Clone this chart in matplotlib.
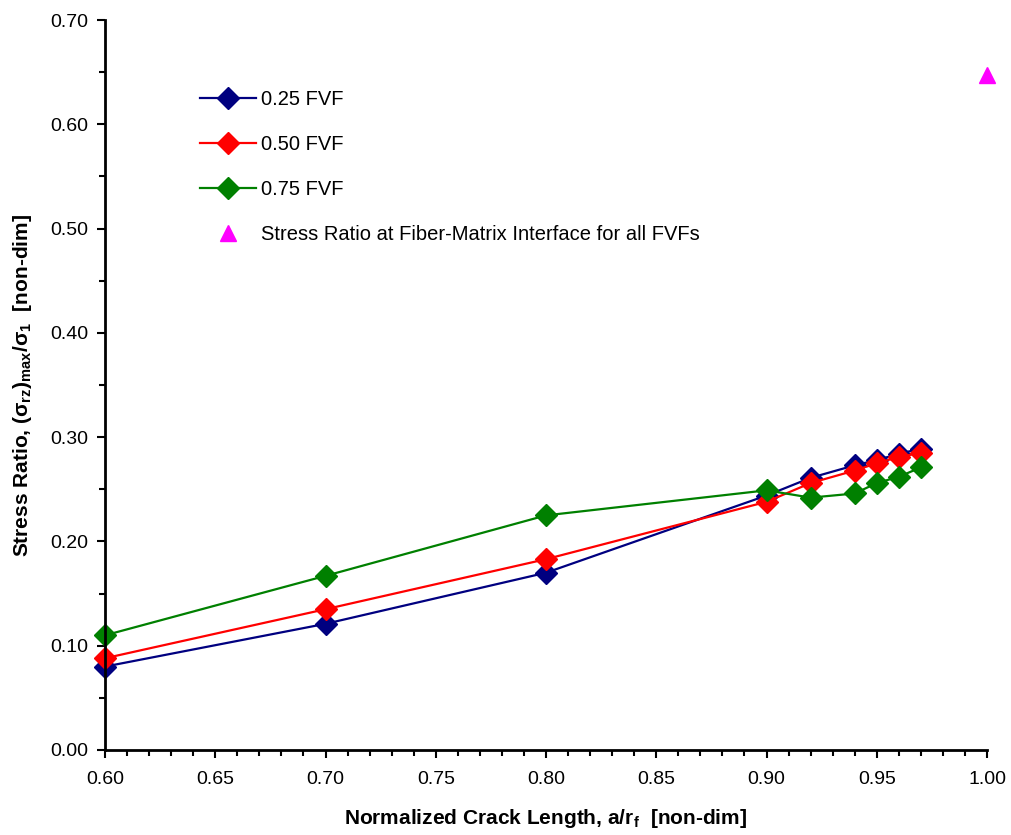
import numpy as np
import matplotlib
matplotlib.use("Agg")
import matplotlib.pyplot as plt
from matplotlib.ticker import MultipleLocator, FormatStrFormatter

plt.rcParams['font.family'] = ['Liberation Sans', 'DejaVu Sans']
plt.rcParams['mathtext.fontset'] = 'custom'
plt.rcParams['mathtext.rm'] = 'Liberation Sans:bold'
plt.rcParams['mathtext.it'] = 'Liberation Sans:bold'
plt.rcParams['mathtext.default'] = 'rm'

# crack length a/r_f
crack = [0.60, 0.70, 0.80, 0.90, 0.92, 0.94, 0.95, 0.96, 0.97]
fvf_25 = [0.080, 0.121, 0.170, 0.244, 0.261, 0.273, 0.278, 0.284, 0.289]
fvf_50 = [0.088, 0.135, 0.183, 0.238, 0.256, 0.268, 0.275, 0.281, 0.285]
fvf_75 = [0.110, 0.167, 0.225, 0.249, 0.242, 0.246, 0.256, 0.262, 0.271]
interface_x = [1.00]
interface_y = [0.647]

fig = plt.figure(figsize=(10.11, 8.35), dpi=100)
ax = fig.add_axes([0.1039, 0.1018, 0.8724, 0.8742])

ax.plot(crack, fvf_25, color='#000080', marker='D', markersize=11, lw=1.6, label='0.25 FVF', clip_on=False)
ax.plot(crack, fvf_50, color='#ff0000', marker='D', markersize=11, lw=1.6, label='0.50 FVF', clip_on=False)
ax.plot(crack, fvf_75, color='#008000', marker='D', markersize=11, lw=1.6, label='0.75 FVF', clip_on=False)
ax.plot(interface_x, interface_y, color='#ff00ff', marker='^', markersize=12, ls='none',
        label='Stress Ratio at Fiber-Matrix Interface for all FVFs', clip_on=False)

ax.set_xlim(0.60, 1.00)
ax.set_ylim(0.0, 0.70)
ax.xaxis.set_major_locator(MultipleLocator(0.05))
ax.xaxis.set_minor_locator(MultipleLocator(0.01))
ax.yaxis.set_major_locator(MultipleLocator(0.10))
ax.yaxis.set_minor_locator(MultipleLocator(0.05))
ax.xaxis.set_major_formatter(FormatStrFormatter('%.2f'))
ax.yaxis.set_major_formatter(FormatStrFormatter('%.2f'))
ax.tick_params(axis='both', which='major', labelsize=14, length=6, width=1.5, direction='out')
ax.tick_params(axis='both', which='minor', length=4, width=1.5, direction='out')
ax.tick_params(axis='x', which='major', pad=9)
ax.tick_params(axis='y', which='major', pad=6)

for s in ['top', 'right']:
    ax.spines[s].set_visible(False)
for s in ['left', 'bottom']:
    ax.spines[s].set_linewidth(2)

ax.set_xlabel(r'Normalized Crack Length, a/r$_\mathregular{f}$  [non-dim]', fontsize=15, fontweight='bold', labelpad=14)
ax.set_ylabel(r'Stress Ratio, ($\sigma_{rz}$)$_{max}$/$\sigma_1$  [non-dim]', fontsize=15, fontweight='bold', labelpad=12)

ax.legend(loc='upper left', bbox_to_anchor=(0.180, 0.914), bbox_transform=fig.transFigure,
          frameon=False, fontsize=14.5, handlelength=2.8, labelspacing=1.3, handletextpad=0.2)

fig.savefig('out.png', dpi=100)
